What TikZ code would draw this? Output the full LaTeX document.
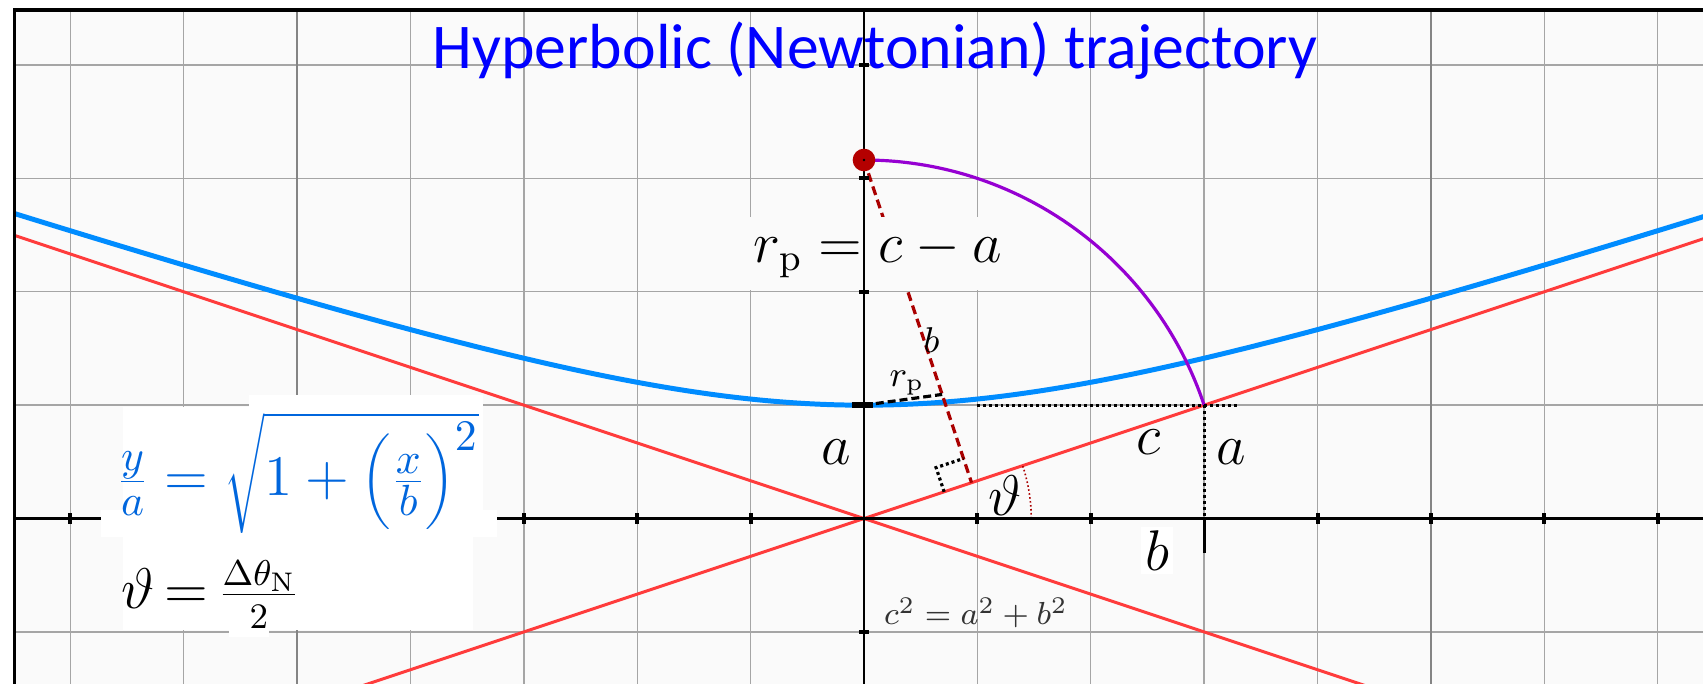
\documentclass[tikz,border=0pt]{standalone}
\usepackage{fontspec}
\newfontfamily\titlefont{Carlito}
\usetikzlibrary{calc}
\definecolor{bgc}{RGB}{250,250,250}
\definecolor{gridc}{RGB}{165,165,165}
\definecolor{hypc}{RGB}{0,140,255}
\definecolor{asyc}{RGB}{255,60,60}
\definecolor{purc}{RGB}{150,0,210}
\definecolor{drc}{RGB}{170,0,0}
\definecolor{dotc}{RGB}{180,0,0}
\definecolor{fblue}{RGB}{0,102,221}
\definecolor{titc}{RGB}{0,0,255}
\tikzset{
  gridline/.style={draw=gridc, line width=0.35pt},
  majorgrid/.style={draw=gridc!80!black, line width=0.5pt},
  axisline/.style={draw=black, line width=0.75pt},
  tickmark/.style={draw=black, line width=1pt},
  hypline/.style={draw=hypc, line width=1.25pt},
  asyline/.style={draw=asyc, line width=0.75pt},
  arcline/.style={draw=purc, line width=0.8pt},
  rdash/.style={draw=drc, line width=0.8pt, dash pattern=on 2.25pt off 1.25pt},
  kdash/.style={draw=black, line width=0.8pt, dash pattern=on 2pt off 1pt},
  kdot/.style={draw=black, line width=0.8pt, dash pattern=on 0.75pt off 0.75pt},
  angdot/.style={draw=drc, line width=0.4pt, dash pattern=on 0.4pt off 0.6pt},
  lbl/.style={inner sep=1pt, font=\fontsize{15}{18}\selectfont},
  smalllbl/.style={inner sep=1pt, font=\fontsize{9}{11}\selectfont},
  whitebox/.style={fill=white, draw=none},
}
\begin{document}
\begin{tikzpicture}
\useasboundingbox (-7.62cm,-1.459cm) rectangle ++(426bp,171bp);
\fill[white] (-7.7,-1.6) rectangle (7.6,4.7);
\fill[bgc] (-7.489,-1.6) rectangle (7.6,4.486);

\coordinate (O) at (0,0);
\coordinate (P) at (0,{sqrt(10)});
\coordinate (V) at (0,1);
\coordinate (Q) at (3,1);
\coordinate (B) at (3,0);
\coordinate (Bd) at (3,-0.305);
\coordinate (F) at ({3/sqrt(10)},{1/sqrt(10)});
\coordinate (Fu) at (0.7068,0.2356);
\coordinate (Fc) at (0.6357,0.4491);
\coordinate (Fv) at (0.8776,0.5297);
\coordinate (R) at ($(P)!0.7264!(F)$);
\coordinate (H1) at (0.993,1);
\coordinate (H2) at (3.295,1);

\begin{scope}
\clip (-7.489,-1.6) rectangle (7.6,4.486);
\foreach \i in {-7,...,7} \draw[gridline] (\i,-1.6) -- (\i,4.6);
\foreach \j in {-1,...,4} \draw[gridline] (-7.6,\j) -- (7.6,\j);
\draw[majorgrid] (-5,-1.6) -- (-5,4.6);
\draw[majorgrid] (5,-1.6) -- (5,4.6);
% asymptotes
\draw[asyline] (-7.6,{7.6/3}) -- (7.6,{-7.6/3});
\draw[asyline] (-7.6,{-7.6/3}) -- (7.6,{7.6/3});
% hyperbola
\draw[hypline] plot[domain=-7.6:7.6, samples=160, smooth] (\x,{sqrt(1+(\x/3)^2)});
\end{scope}

% circle arc of radius c
\draw[arcline] (P) arc[start angle=90, end angle={atan(1/3)}, radius={sqrt(10)}];
% dashed b line and right angle
\draw[rdash] (P) -- (F);
\draw[kdot] (Fu) -- (Fc) -- (Fv);
% r_p short dashed
\draw[kdash] (V) -- (R);
% dotted helper lines
\draw[kdot] (H1) -- (H2);
\draw[kdot] (Q) -- (B);
% angle arc
\draw[angdot] (1.475,0) arc[start angle=0, end angle={atan(1/3)}, radius=1.475];

% big label r_p = c - a
\node[lbl, fill=bgc, inner sep=3pt, anchor=base, font=\fontsize{13.5}{16}\selectfont] (rpl) at (0.123,2.26) {$r_{\mathrm{p}} = c - a$};

% axes
\draw[axisline] (-7.489,0) -- (7.6,0);
\draw[axisline] (0,-1.6) -- (0,4.486);
\foreach \i in {-7,...,-1,1,2,4,5,6,7} \draw[tickmark] (\i,-0.045) -- (\i,0.045);
\foreach \j in {-1,2,3,4} \draw[tickmark] (-0.045,\j) -- (0.045,\j);
\draw[line width=1.6pt] (-0.106,1) -- (0.079,1);
\draw[line width=0.8pt] (B) -- (Bd);

% frame (left and top edges)
\draw[line width=0.8pt] (-7.489,-1.6) -- (-7.489,4.486) -- (7.6,4.486);

% point
\fill[dotc] (P) circle (0.1);
\fill[black] (P) circle (0.013);

% formula boxes
\fill[whitebox] (-6.537,-0.163) rectangle (-3.357,0.982);
\fill[whitebox] (-5.427,0.982) rectangle (-3.357,1.088);
\fill[whitebox] (-6.731,-0.163) rectangle (-3.233,0.075);
\fill[whitebox] (-6.537,-0.985) rectangle (-3.445,-0.163);
\fill[whitebox] (-5.604,-1.044) rectangle (-5.251,-0.985);

% title
\node[anchor=base, text=titc, inner sep=0pt, font=\titlefont\fontsize{16}{19}\selectfont] (title) at (0.097,3.969) {Hyperbolic (Newtonian) trajectory};

% labels
\node[lbl] (la) at (-0.242,0.586) {$a$};
\node[lbl] (lc) at (2.507,0.678) {$c$};
\node[lbl] (la2) at (3.238,0.586) {$a$};
\node[lbl, fill=white] (lb) at (2.586,-0.282) {$b$};
\node[lbl] (lth) at (1.242,0.203) {$\vartheta$};
\node[smalllbl] (lrp) at (0.379,1.193) {$r_{\mathrm{p}}$};
\node[smalllbl, font=\fontsize{9.5}{11}\selectfont] (lbs) at (0.595,1.573) {$b$};
\node[inner sep=1pt, text=black!80, font=\fontsize{8}{10}\selectfont] (pyth) at (0.987,-0.833) {$c^2 = a^2 + b^2$};

% formulas
\node[anchor=base, inner sep=0pt, text=fblue, font=\fontsize{15}{18}\selectfont] (f1) at (-4.996,0.2)
  {\raisebox{0pt}[\height][0pt]{$\frac{y}{a} = \sqrt{1+\bigg(\frac{x}{b}\bigg)^{2}}$}};
\node[anchor=base, inner sep=0pt, font=\fontsize{13.5}{16}\selectfont] (f2) at (-5.76,-0.795)
  {\thickmuskip=3mu $\vartheta = \frac{\Delta\theta_{\mathrm{N}}}{2}$};

% edge strip
\fill[white] (7.396,-1.6) rectangle (7.6,4.7);
\end{tikzpicture}
\end{document}
